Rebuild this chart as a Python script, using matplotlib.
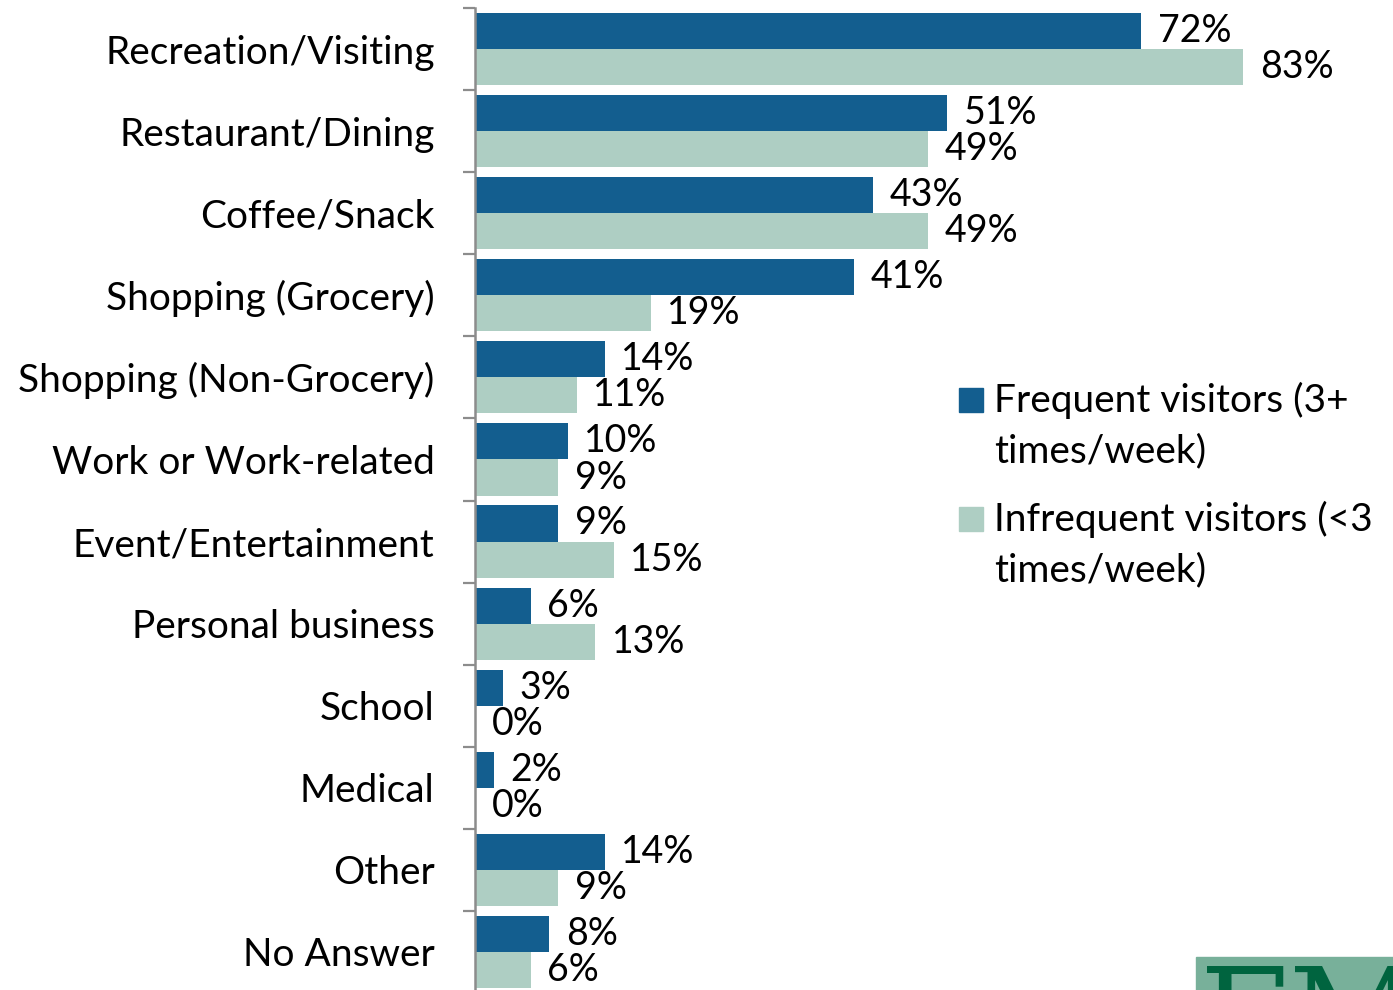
import numpy as np
import matplotlib.pyplot as plt
from matplotlib.patches import Rectangle

plt.rcParams['font.family'] = ['Lato', 'DejaVu Sans']

categories = ['Recreation/Visiting', 'Restaurant/Dining', 'Coffee/Snack',
              'Shopping (Grocery)', 'Shopping (Non-Grocery)', 'Work or Work-related',
              'Event/Entertainment', 'Personal business', 'School', 'Medical',
              'Other', 'No Answer']
frequent = [72, 51, 43, 41, 14, 10, 9, 6, 3, 2, 14, 8]
infrequent = [83, 49, 49, 19, 11, 9, 15, 13, 0, 0, 9, 6]
series_names = ['Frequent visitors (3+\ntimes/week)',
                'Infrequent visitors (<3\ntimes/week)']

dark = '#135e8f'
light = '#aecec3'
grey = '#8c8c8c'

W, H = 1393, 990
fig = plt.figure(figsize=(W / 100, H / 100), dpi=100)
# axes spans rows from y=8px down to ~993px (slightly past the bottom edge)
ax = fig.add_axes([475 / W, (H - 993) / H, 916 / W, 985 / H])

y = np.arange(len(categories))
bh = 0.44
ax.barh(y - bh / 2, frequent, height=bh, color=dark, linewidth=0)
ax.barh(y + bh / 2, infrequent, height=bh, color=light, linewidth=0)

for yi, v in zip(y - bh / 2, frequent):
    ax.annotate(f'{v}%', (v, yi), xytext=(12, 0), textcoords='offset points',
                va='center', ha='left', fontsize=27)
for yi, v in zip(y + bh / 2, infrequent):
    ax.annotate(f'{v}%', (v, yi), xytext=(12, 0), textcoords='offset points',
                va='center', ha='left', fontsize=27)

ax.set_xlim(0, 99)
ax.set_ylim(len(categories) - 0.5, -0.5)
ax.set_xticks([])
ax.set_yticks(y)
ax.set_yticklabels(categories, fontsize=28)
ax.set_yticks(np.arange(len(categories) + 1) - 0.5, minor=True)
ax.tick_params(axis='y', which='major', length=0, pad=29)
ax.tick_params(axis='y', which='minor', length=8.6, width=1.6, color=grey)
for s in ['top', 'right', 'bottom']:
    ax.spines[s].set_visible(False)
ax.spines['left'].set_color(grey)
ax.spines['left'].set_linewidth(1.8)

# legend drawn by hand so the swatch lines up with the first text line
for i, (name, c) in enumerate(zip(series_names, [dark, light])):
    cy = 400 + i * 119
    fig.patches.append(Rectangle((959 / W, (H - cy - 12) / H), 24 / W, 24 / H,
                                 transform=fig.transFigure, color=c))
    for j, line in enumerate(name.split('\n')):
        fig.text(994 / W, (H - cy - j * 51) / H, line, fontsize=28,
                 va='center', ha='left')

# corner logo, cut off by the bottom edge
fig.patches.append(Rectangle((1196 / W, 0), (W - 1196) / W, 33 / H,
                             transform=fig.transFigure, color='#78b09a'))
fig.text(1200 / W, (H - 962) / H, 'FM', fontsize=92, family='DejaVu Serif',
         color='#00643f', va='top', ha='left')

fig.savefig('out.png', dpi=100)
